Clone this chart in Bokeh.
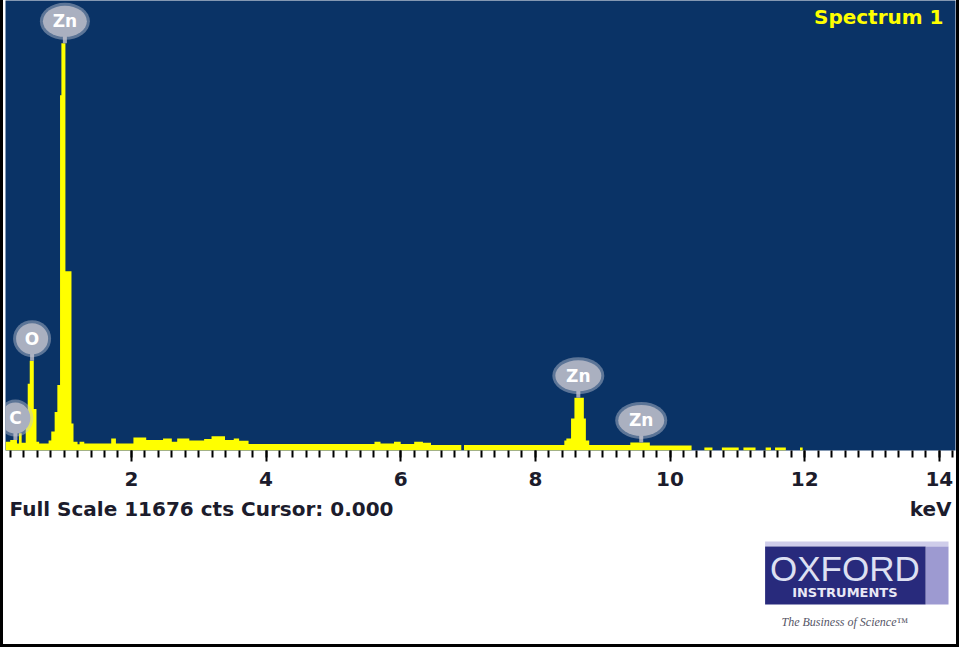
import numpy as np
from bokeh.plotting import figure
from bokeh.layouts import column
from bokeh.models import Range1d, SingleIntervalTicker, Label, ColumnDataSource
from bokeh.core.properties import value
from bokeh.embed import file_html
from bokeh.resources import INLINE

# ---------------- data ----------------
full_scale = 11676          # cts
cursor_kev = 0.000
x_start, x_end = 0.13, 14.24

# step spectrum: counts[i] holds from edges_kev[i] to edges_kev[i+1]
edges_kev = [0.13, 0.20, 0.30, 0.33, 0.37, 0.43, 0.46, 0.49, 0.55, 0.59, 0.63,
             0.77, 0.81, 0.86, 0.90, 0.94, 0.96, 1.02, 1.11, 1.14, 1.20, 1.23,
             1.30, 1.70, 1.77, 2.03, 2.22, 2.47, 2.60, 2.68, 2.86, 3.08, 3.19,
             3.39, 3.52, 3.60, 3.74, 5.61, 5.70, 5.90, 6.00, 6.20, 6.33, 6.45,
             6.90, 6.94, 8.43, 8.46, 8.53, 8.58, 8.72, 8.75, 8.80, 9.41, 9.70,
             10.32, 10.51, 10.63, 10.77, 11.02, 11.09, 11.27, 11.42, 11.50,
             11.56, 11.72, 11.93, 11.97]
counts = [230, 270, 180, 450, 200, 1030, 1730, 2330, 1080, 230,
          180, 260, 490, 1000, 1700, 9220, 10565, 4650, 700, 230, 160,
          230, 180, 310, 180, 340, 270, 310, 230, 310, 260, 300,
          370, 270, 310, 250, 170, 230, 180, 230, 170, 230, 200,
          140, 0, 140, 260, 310, 830, 1370, 830, 260, 140, 210,
          130, 0, 80, 0, 80, 0, 80, 0, 80,
          0, 80, 0, 80]

label_names = ["C", "O", "Zn", "Zn", "Zn"]
label_kev = [0.277, 0.525, 1.012, 8.638, 9.572]

# ---------------- style ----------------
BLUE = "#0a3366"
YELLOW = "#ffff00"
FONT = "DejaVu Sans"
frame_w, frame_h = 950, 450
label_w = [30, 32, 44, 46, 46]
label_h = 31
label_gap_px = 22

p = figure(frame_width=frame_w, frame_height=frame_h,
           x_range=Range1d(x_start, x_end), y_range=Range1d(0, full_scale),
           toolbar_location=None, output_backend="svg",
           y_axis_location=None, min_border_left=2, min_border_right=1,
           min_border_top=0, min_border_bottom=44)
p.background_fill_color = BLUE
p.border_fill_color = "white"
p.outline_line_color = None
p.grid.visible = False

# spectrum
p.varea_step(x=edges_kev, y1=[0] * len(edges_kev), y2=counts + [0],
             step_mode="after", fill_color=YELLOW)

# element markers
e = np.array(edges_kev)
peak_cts = [counts[int(np.searchsorted(e, k, side="right") - 1)] for k in label_kev]
gap = label_gap_px * full_scale / frame_h
lab_y = [c + gap for c in peak_cts]
src = ColumnDataSource(dict(x=label_kev, y0=peak_cts, y=lab_y, name=label_names,
                            w=label_w, wg=[w + 6 for w in label_w]))
p.segment(x0="x", y0="y0", x1="x", y1="y", source=src, line_color="#9ea5b6", line_width=4)
p.ellipse(x="x", y="y", width="wg", height=label_h + 6, width_units="screen",
          height_units="screen", source=src, fill_color="#c2c6d2", fill_alpha=0.45,
          line_color=None)
p.ellipse(x="x", y="y", width="w", height=label_h, width_units="screen",
          height_units="screen", source=src, fill_color="#aab0c0", line_color=None)
p.text(x="x", y="y", text="name", source=src, text_align="center",
       text_baseline="middle", text_color="white", text_font=value(FONT),
       text_font_style="bold", text_font_size="17px")

p.add_layout(Label(x=x_end, y=full_scale, x_offset=-12, y_offset=-4,
                   text="Spectrum 1", text_align="right", text_baseline="top",
                   text_color=YELLOW, text_font=FONT, text_font_style="bold",
                   text_font_size="20px"))

ax = p.xaxis[0]
ax.ticker = SingleIntervalTicker(interval=2, num_minor_ticks=10)
ax.axis_line_color = None
ax.major_tick_in = 0
ax.major_tick_out = 11
ax.minor_tick_in = 0
ax.minor_tick_out = 7
ax.major_tick_line_width = 2
ax.minor_tick_line_width = 2
ax.major_tick_line_color = "black"
ax.minor_tick_line_color = "black"
ax.major_label_standoff = 10
ax.major_label_text_font = FONT
ax.major_label_text_font_style = "bold"
ax.major_label_text_font_size = "20px"
ax.major_label_text_color = "#1c1c2c"

# ---------------- footer ----------------
W = frame_w + 3
H = 150
b = figure(width=W, height=H, x_range=Range1d(0, W), y_range=Range1d(H, 0),
           toolbar_location=None, output_backend="svg",
           x_axis_location=None, y_axis_location=None, min_border=0)
b.grid.visible = False
b.outline_line_color = None
b.background_fill_color = "white"

b.text(x=[4], y=[14], text=[f"Full Scale {full_scale} cts Cursor: {cursor_kev:.3f}"],
       text_baseline="middle", text_align="left", text_color="#1c1c2c",
       text_font=value(FONT), text_font_style="bold", text_font_size="20px")
b.text(x=[W - 4], y=[14], text=["keV"], text_baseline="middle", text_align="right",
       text_color="#1c1c2c", text_font=value(FONT), text_font_style="bold",
       text_font_size="20px")

# logo
b.quad(left=[762], right=[946], top=[47], bottom=[52], fill_color="#cfcdea", line_color=None)
b.quad(left=[923], right=[946], top=[52], bottom=[110], fill_color="#9d9ad1", line_color=None)
b.quad(left=[762], right=[923], top=[52], bottom=[110], fill_color="#282a7c", line_color=None)
b.text(x=[842], y=[74], text=["OXFORD"], text_align="center", text_baseline="middle",
       text_color="#dde0f2", text_font=value("Liberation Sans"), text_font_size="35px")
b.text(x=[842], y=[98], text=["INSTRUMENTS"], text_align="center", text_baseline="middle",
       text_color="#e8e8f6", text_font=value(FONT), text_font_style="bold",
       text_font_size="13px")
b.text(x=[842], y=[127], text=["The Business of Science™"], text_align="center",
       text_baseline="middle", text_color="#555566", text_font=value("Liberation Serif"),
       text_font_style="italic", text_font_size="12px")

layout = column(p, b, spacing=0,
                styles={"border-left": "3px solid black", "border-right": "3px solid black",
                        "border-bottom": "3px solid black"})

open("out.html", "w").write(file_html(layout, INLINE))
